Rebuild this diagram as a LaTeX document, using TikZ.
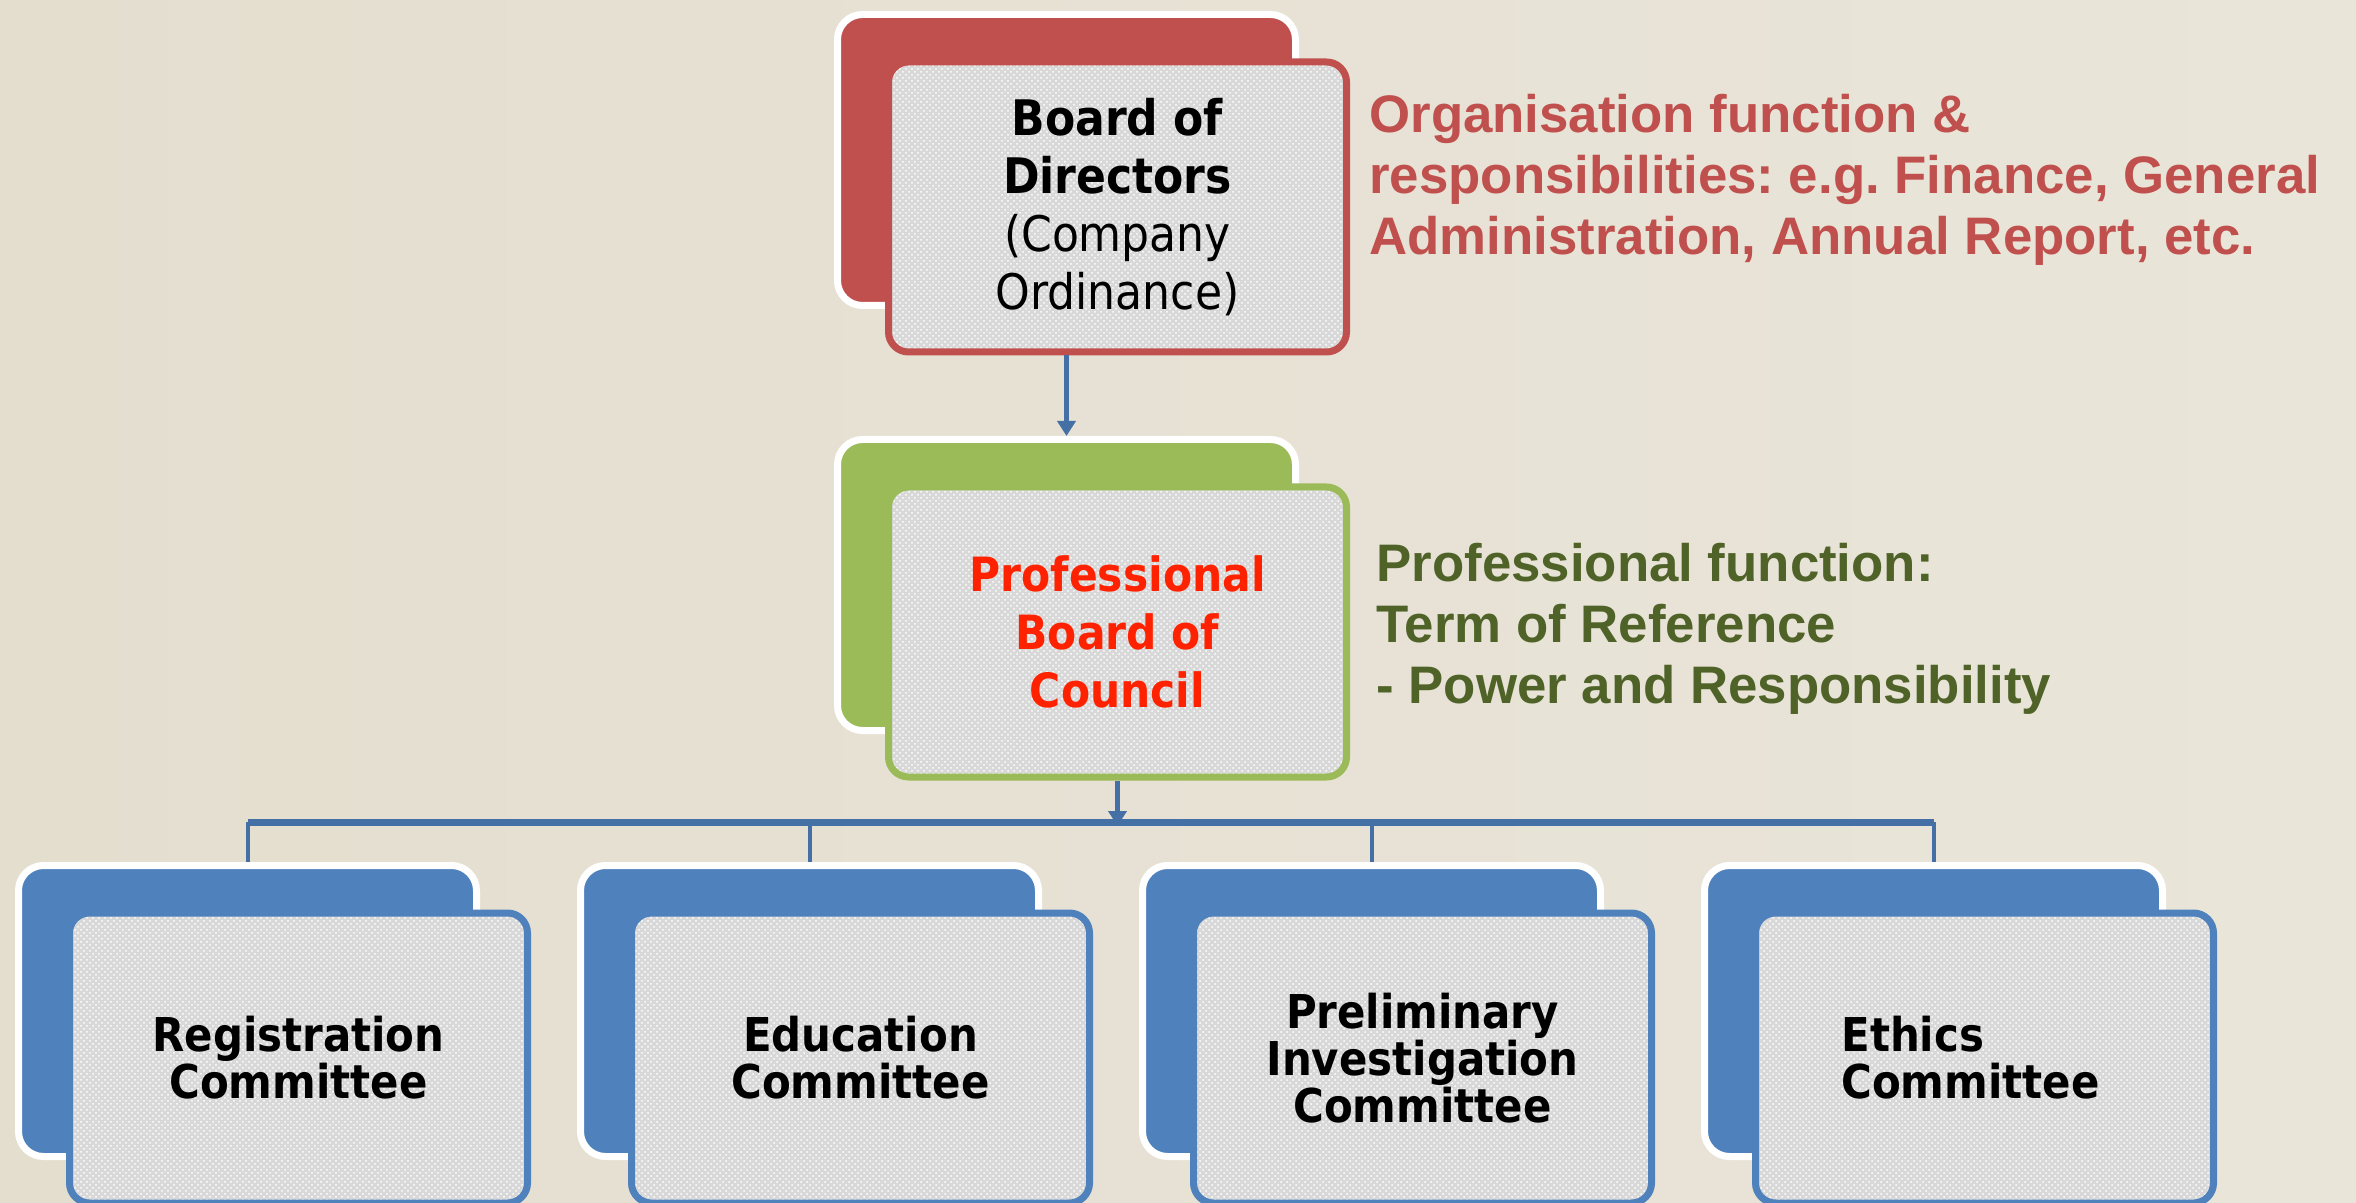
\documentclass[tikz,border=0pt]{standalone}
\usepackage{fontspec}
\setmainfont{DejaVu Sans Condensed}
\newfontfamily\notefont{Liberation Sans}
\usepackage{tikz}
\usetikzlibrary{arrows.meta,positioning,patterns}
\frenchspacing
\definecolor{boardred}{RGB}{192,80,77}
\definecolor{boardgreen}{RGB}{155,187,89}
\definecolor{commblue}{RGB}{79,129,189}
\definecolor{linkblue}{RGB}{68,112,166}
\definecolor{cardgray}{RGB}{216,216,216}
\definecolor{pbcred}{RGB}{255,34,0}
\definecolor{noteolive}{RGB}{79,98,40}
\definecolor{bgleft}{RGB}{228,222,207}
\definecolor{bgmid}{RGB}{237,235,228}
\definecolor{bgright}{RGB}{233,229,217}

\begin{document}
\begin{tikzpicture}[x=0.5pt,y=-0.5pt,
  back/.style={rectangle,draw=white,line width=3.5pt,rounded corners=12.5pt,fill=#1,
               minimum width=229pt,minimum height=145.5pt,inner sep=0pt},
  card/.style={rectangle,draw=#1,line width=3.5pt,rounded corners=10pt,
               preaction={fill=cardgray},
               preaction={pattern=crosshatch dots,pattern color=white},
               minimum width=229pt,minimum height=145pt,inner sep=2pt,align=center,
               xshift=25.5pt,yshift=-23.5pt,
               font=\fontsize{23.3}{23.5}\selectfont\bfseries},
  note/.style={anchor=base west,align=left,inner sep=0pt,
               font=\notefont\bfseries\fontsize{26.4}{30.5}\selectfont},
  link/.style={draw=linkblue,line width=2.5pt,-{Triangle[length=7.5pt,width=9pt]}},
  bus/.style={draw=linkblue,line width=3.5pt},
  drop/.style={draw=linkblue,line width=2pt}
]

\useasboundingbox (0,0) rectangle (2356,1203);
\shade[left color=bgleft,middle color=bgmid,right color=bgright] (0,0) rectangle (2356,1203);

\node[back=boardred]   (bodb) at (1066.5,160) {};
\node[card=boardred,font=\fontsize{24.5}{29}\selectfont] (bod) at (bodb)
  {\textbf{Board of}\\\textbf{Directors}\\(Company\\Ordinance)};

\node[back=boardgreen] (pbcb) at (1066.5,585) {};
\node[card=boardgreen,text=pbcred,font=\fontsize{23.6}{29}\selectfont\bfseries] (pbc) at (pbcb)
  {Professional\\Board of\\Council};

\node[back=commblue]                     (regb) at (247.5,1011) {};
\node[back=commblue,right=48.5pt of regb] (edub) {};
\node[back=commblue,right=48.5pt of edub] (prlb) {};
\node[back=commblue,right=48.5pt of prlb] (ethb) {};

\node[card=commblue] (reg) at (regb) {Registration\\Committee};
\node[card=commblue] (edu) at (edub) {Education\\Committee};
\node[card=commblue] (prl) at (prlb) {Preliminary\\Investigation\\Committee};
\node[card=commblue,align=left] (eth) at (ethb) {Ethics\\Committee\hspace*{14pt}};

\node[note,text=boardred] (orgnote) at (1369,255)
  {Organisation function \&\\responsibilities: e.g. Finance, General\\Administration, Annual Report, etc.};
\node[note,text=noteolive] (profnote) at (1376,703)
  {Professional function:\\Term of Reference\\- Power and Responsibility};

\coordinate (bus) at (0,822);
\draw[link] (bodb |- bod.south) -- (pbcb.north);
\draw[bus] (regb.north |- bus) -- (ethb.north |- bus);
\foreach \c in {regb,edub,prlb,ethb} { \draw[drop] (\c.north |- bus) -- (\c.north); }
\draw[link] (pbc.south) -- ([yshift=-2pt]pbc.south |- bus);

\end{tikzpicture}
\end{document}
